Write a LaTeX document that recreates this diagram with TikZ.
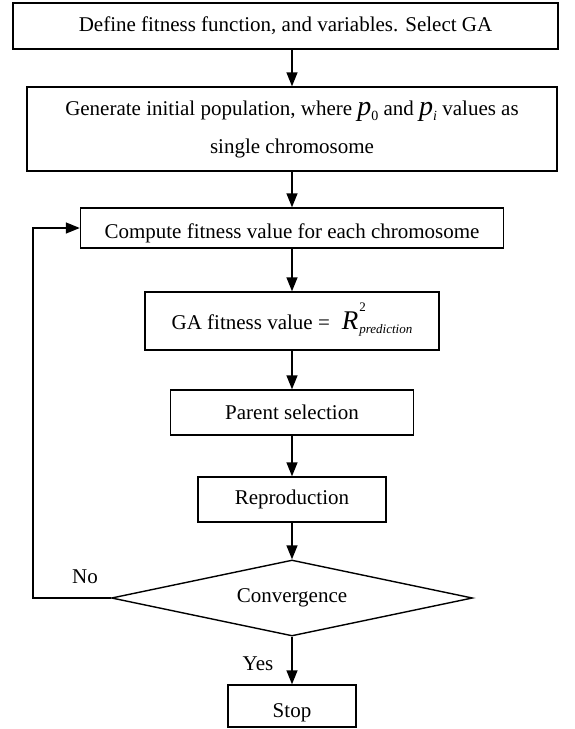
\documentclass[tikz,border=0pt]{standalone}
\usepackage{fontspec}
\setmainfont{Liberation Serif}
\usetikzlibrary{arrows.meta,shapes.geometric}
\newcommand\myp[1]{{\fontsize{28}{28}\selectfont\itshape p}\raisebox{-5pt}{\fontsize{14}{14}\selectfont #1}}
\begin{document}
\begin{tikzpicture}[x=1pt,y=-1pt,
  box/.style={draw, line width=1.4pt, inner sep=0pt, font=\fontsize{21}{25}\selectfont, align=center},
  arr/.style={line width=1.4pt, -{Triangle[length=14pt,width=11pt]}},
  lbl/.style={font=\fontsize{21}{25}\selectfont, inner sep=0pt}]
\useasboundingbox (0,0) rectangle (574,729);
\node[box, minimum width=545pt, minimum height=46pt] (b1) at (285.5,26) {Define fitness function, and variables. Select GA};
\node[box, minimum width=530pt, minimum height=84pt] (b2) at (292,129) {Generate initial population, where \myp{0} and \myp{\itshape i} values as\\[13pt]single chromosome};
\node[box, minimum width=423pt, minimum height=40pt, text height=20pt, text depth=0pt] (b3) at (292,228) {Compute fitness value for each chromosome};
\node[box, minimum width=294pt, minimum height=58pt, text height=16pt, text depth=0pt] (b4) at (292,321) {GA fitness value =\hspace{12pt}{\fontsize{27}{27}\selectfont\itshape R}\hspace{1pt}\raisebox{6pt}{\begin{tabular}[c]{@{}l@{}}\fontsize{13}{13}\selectfont 2\\[-3pt]\fontsize{13}{13}\selectfont\itshape prediction\end{tabular}}};
\node[box, minimum width=243pt, minimum height=45pt] (b5) at (292,412.5) {Parent selection};
\node[box, minimum width=188pt, minimum height=45pt] (b6) at (292,499.5) {Reproduction};
\node[box, shape=diamond, aspect=4.75, minimum width=361pt, minimum height=76pt] (dia) at (292,598) {Convergence};
\node[box, minimum width=128pt, minimum height=42pt, text height=22pt, text depth=0pt] (stop) at (292,706) {Stop};
\coordinate (fb) at (33,598);
\draw[arr] (b1.south -| b2.north) -- (b2.north);
\draw[arr] (b2.south) -- (b3.north);
\draw[arr] (b3.south) -- (b4.north);
\draw[arr] (b4.south) -- (b5.north);
\draw[arr] (b5.south) -- (b6.north);
\draw[arr] (b6.south) -- (dia.north);
\draw[arr] (dia.south) -- (stop.north);
\draw[arr] (dia.west) -- (fb) |- (b3.west);
\node[lbl] (no) at (85,577) {No};
\node[lbl] (yes) at (258,664) {Yes};
\end{tikzpicture}
\end{document}
